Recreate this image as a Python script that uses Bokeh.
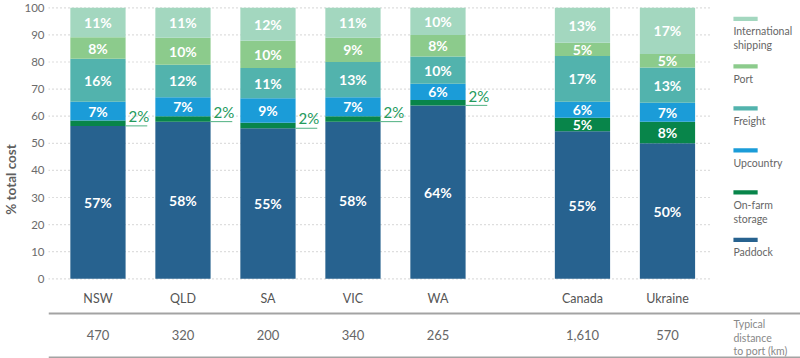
import numpy as np
from bokeh.plotting import figure
from bokeh.models import ColumnDataSource, FixedTicker, Span
from bokeh.core.properties import value
from bokeh.embed import file_html
from bokeh.resources import INLINE

# ---------------- data ----------------
categories = ["NSW", "QLD", "SA", "VIC", "WA", "Canada", "Ukraine"]
x_pos = [0, 1, 2, 3, 4, 5.7, 6.7]          # slot positions (gap before Canada)
series = ["Paddock", "On-farm storage", "Upcountry", "Freight", "Port",
          "International shipping"]
legend_text = ["Paddock", "On-farm\nstorage", "Upcountry", "Freight", "Port",
               "International\nshipping"]
paddock = [57, 58, 55, 58, 64, 55, 50]
on_farm = [2, 2, 2, 2, 2, 5, 8]
upcountry = [7, 7, 9, 7, 6, 6, 7]
freight = [16, 12, 11, 13, 10, 17, 13]
port = [8, 10, 10, 9, 8, 5, 5]
intl = [11, 11, 12, 11, 10, 13, 17]
distance_km = [470, 320, 200, 340, 265, 1610, 570]
distance_title = "Typical\ndistance\nto port (km)"
y_ticks = list(range(0, 101, 10))

colors = ["#27628f", "#08854a", "#1b9cd8", "#52b3ad", "#8ccb8c", "#a3d7bf"]

FONT = value("Lato")

# ---------------- layout constants ----------------
X0, X1 = -0.582, 8.265      # frame x range
GRID_END = 7.23             # dotted grid stops here
LEG_X = 7.476               # legend column
Y0, Y1 = -29.4, 102.7
BAR_W = 0.65

p = figure(width=800, height=358, output_backend="svg", toolbar_location=None,
           x_range=(X0, X1), y_range=(Y0, Y1), x_axis_location=None,
           min_border_left=48, min_border_right=0, min_border_top=0,
           min_border_bottom=0)
p.outline_line_color = None
p.xgrid.visible = False
p.ygrid.visible = False
p.background_fill_color = "white"
p.border_fill_color = "white"

ax = p.yaxis[0]
ax.ticker = FixedTicker(ticks=y_ticks)
ax.axis_line_color = None
ax.major_tick_line_color = None
ax.minor_tick_line_color = None
ax.major_tick_out = 0
ax.major_tick_in = 0
ax.minor_tick_out = 0
ax.minor_tick_in = 0
ax.major_label_standoff = 4
ax.major_label_text_font = "Lato"
ax.major_label_text_font_size = "11.5px"
ax.major_label_text_color = "#6b6b6b"
ax.axis_label = "% total cost"
ax.axis_label_text_font = "Lato"
ax.axis_label_text_font_style = "bold"
ax.axis_label_text_font_size = "13.5px"
ax.axis_label_text_color = "#5f5f5f"
ax.axis_label_standoff = 2

# dotted grid lines
p.segment(x0=[X0] * len(y_ticks), y0=y_ticks, x1=[GRID_END] * len(y_ticks),
          y1=y_ticks, line_color="#bdbdbd", line_width=1.2, line_dash="1 3")

# ---------------- stacked bars ----------------
vals = np.array([paddock, on_farm, upcountry, freight, port, intl], dtype=float)
totals = vals.sum(axis=0)
shares = vals / totals * 100.0
tops = np.cumsum(shares, axis=0)
bottoms = tops - shares
xs = np.array(x_pos, dtype=float)

for i, name in enumerate(series):
    src = ColumnDataSource(dict(x=xs, bottom=bottoms[i], top=tops[i]))
    p.vbar(x="x", width=BAR_W, bottom="bottom", top="top", source=src,
           fill_color=colors[i], line_color=None)

# labels inside the bars
lx, ly, lt = [], [], []
cx, cy, ct = [], [], []
for i in range(len(series)):
    for j in range(len(categories)):
        v = int(vals[i, j])
        if i == 1 and v < 5:
            cx.append(xs[j])
            cy.append(tops[0, j])
            ct.append(f"{v}%")
        else:
            lx.append(xs[j])
            ly.append((bottoms[i, j] + tops[i, j]) / 2)
            lt.append(f"{v}%")

p.text(x=lx, y=ly, text=lt, text_color="white", text_font=FONT,
       text_font_style="bold", text_font_size="14px", text_align="center",
       text_baseline="middle")

# call-outs for the thin on-farm storage segments
cx = np.array(cx)
cy = np.array(cy)
p.segment(x0=cx + BAR_W / 2, y0=cy, x1=cx + BAR_W / 2 + 0.255, y1=cy,
          line_color="#4fb182", line_width=1)
p.text(x=cx + BAR_W / 2 + 0.035, y=cy + 0.3, text=ct, text_color="#249a5c",
       text_font=FONT, text_font_size="15px", text_align="left",
       text_baseline="bottom")

# ---------------- legend ----------------
n_lines = [t.count("\n") + 1 for t in legend_text]
leg_y = []
yy = 95.9
for k in range(len(series) - 1, -1, -1):
    leg_y.append(yy)
    yy -= 15.5 + 2.0 * (n_lines[k] - 1)
leg_y = np.array(leg_y[::-1])  # align with series order
p.quad(left=[LEG_X] * len(series), right=[LEG_X + 0.285] * len(series),
       bottom=leg_y - 0.8, top=leg_y + 0.8, fill_color=colors, line_color=None)
p.text(x=[LEG_X] * len(series), y=leg_y - 2.4, text=legend_text,
       text_color="#666666", text_font=FONT, text_font_size="10.5px",
       text_align="left", text_baseline="top", text_line_height=1.15)

# ---------------- table below ----------------
p.text(x=xs, y=[-7.3] * len(xs), text=categories, text_color="#555555",
       text_font=FONT, text_font_size="12.5px", text_align="center",
       text_baseline="middle")
p.add_layout(Span(location=-12.8, dimension="width", line_color="#a3a3a3",
                  line_width=2))
p.text(x=xs, y=[-20.9] * len(xs), text=[f"{d:,}" for d in distance_km],
       text_color="#666666", text_font=FONT, text_font_size="13px",
       text_align="center", text_baseline="middle")
p.text(x=[LEG_X], y=[-14.4], text=[distance_title], text_color="#888888",
       text_font=FONT, text_font_size="10.5px", text_align="left",
       text_baseline="top", text_line_height=1.15)
p.add_layout(Span(location=-29.0, dimension="width", line_color="#a3a3a3",
                  line_width=2))

open("out.html", "w").write(file_html(p, INLINE))
